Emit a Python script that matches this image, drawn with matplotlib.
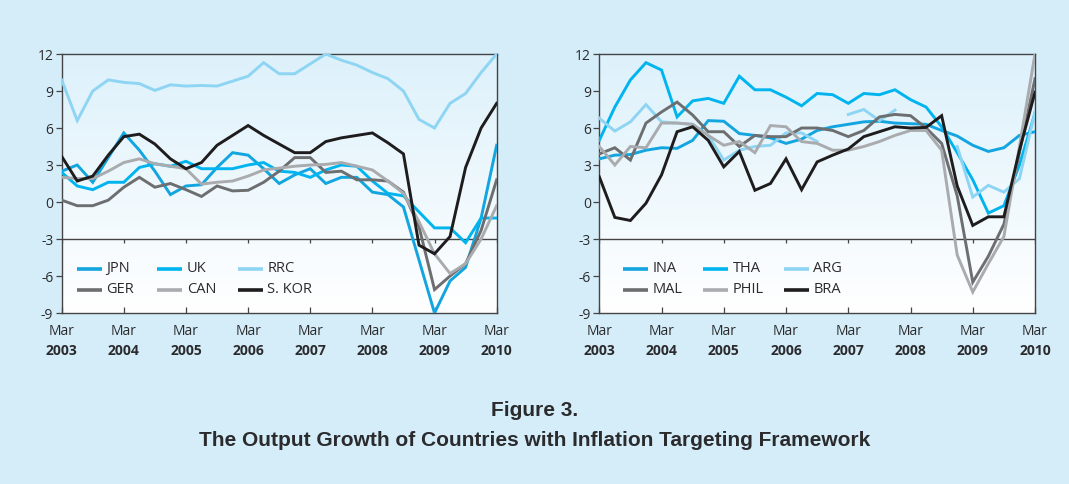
import matplotlib.pyplot as plt
import numpy as np
from matplotlib.colors import LinearSegmentedColormap

nan = np.nan

# quarterly points, Mar 2003 .. Mar 2010
quarters = np.arange(29)
years = ['2003', '2004', '2005', '2006', '2007', '2008', '2009', '2010']
year_ticks = np.arange(0, 29, 4)
y_ticks = [-9, -6, -3, 0, 3, 6, 9, 12]

# left panel
jpn = [2.5, 3.0, 1.6, 3.6, 5.6, 4.2, 2.5, 0.6, 1.3, 1.4, 2.8, 4.0, 3.8, 2.7, 1.5,
       2.2, 2.7, 1.5, 2.0, 2.0, 0.8, 0.6, -0.4, -4.7, -9.0, -6.4, -5.3, -1.3, 4.6]
uk = [2.4, 1.3, 1.0, 1.6, 1.6, 2.8, 3.1, 2.9, 3.3, 2.7, 2.7, 2.7, 3.0, 3.2, 2.5,
      2.4, 2.0, 2.6, 3.0, 2.9, 1.7, 0.7, 0.5, -0.8, -2.1, -2.1, -3.3, -1.3, -1.3]
rrc = [9.9, 6.6, 9.0, 9.9, 9.7, 9.6, 9.05, 9.5, 9.4, 9.45, 9.4, 9.8, 10.2, 11.3, 10.4,
       10.4, 11.2, 12.0, 11.5, 11.1, 10.5, 10.0, 9.0, 6.7, 6.0, 8.0, 8.8, 10.5, 12.0]
ger = [0.15, -0.3, -0.3, 0.15, 1.2, 2.0, 1.2, 1.5, 1.0, 0.45, 1.3, 0.9, 0.95, 1.6, 2.5,
       3.6, 3.6, 2.4, 2.5, 1.8, 1.8, 1.7, 0.8, -2.0, -7.1, -6.0, -5.0, -2.3, 1.8]
can = [2.0, 1.9, 1.9, 2.5, 3.2, 3.5, 3.1, 2.9, 2.7, 1.45, 1.6, 1.7, 2.1, 2.6, 2.75,
       2.9, 3.0, 3.05, 3.2, 2.9, 2.6, 1.7, 0.7, -1.6, -4.2, -5.8, -5.0, -3.0, -0.3]
skor = [3.7, 1.7, 2.1, 3.8, 5.3, 5.5, 4.7, 3.5, 2.7, 3.2, 4.6, 5.4, 6.2, 5.4, 4.7,
        4.0, 4.0, 4.9, 5.2, 5.4, 5.6, 4.8, 3.9, -3.5, -4.2, -2.8, 2.8, 6.0, 8.0]

# right panel
ina = [3.5, 3.8, 3.85, 4.2, 4.4, 4.35, 5.0, 6.6, 6.55, 5.55, 5.4, 5.2, 4.75, 5.1, 5.8,
       6.1, 6.3, 6.5, 6.55, 6.4, 6.35, 6.3, 5.8, 5.35, 4.6, 4.1, 4.4, 5.4, 5.7]
tha = [5.0, 7.7, 9.9, 11.3, 10.7, 6.9, 8.2, 8.4, 8.0, 10.2, 9.1, 9.1, 8.5, 7.8, 8.8,
       8.7, 8.0, 8.8, 8.7, 9.1, 8.3, 7.7, 6.1, 4.0, 1.8, -0.9, -0.3, 3.0, 7.2]
arg = [6.8, 5.75, 6.5, 7.9, 6.5, 6.4, 6.3, 5.4, 3.4, 4.2, 4.5, 4.6, 5.6, 5.6, 4.9,
       nan, 7.1, 7.5, 6.6, 7.45, nan, nan, nan, 4.5, 0.4, 1.35, 0.8, 1.9, 7.3]
mal = [3.9, 4.4, 3.4, 6.4, 7.3, 8.1, 7.05, 5.7, 5.7, 4.5, 5.4, 5.3, 5.3, 6.0, 6.0,
       5.8, 5.3, 5.8, 6.9, 7.1, 7.0, 6.0, 4.75, 0.5, -6.5, -4.4, -1.8, 4.0, 10.0]
phil = [4.5, 3.0, 4.5, 4.4, 6.4, 6.4, 6.3, 5.4, 4.6, 4.9, 4.0, 6.2, 6.1, 4.9, 4.75,
        4.2, 4.2, 4.5, 4.9, 5.4, 5.8, 5.8, 4.2, -4.3, -7.3, -5.0, -2.8, 4.5, 12.0]
bra = [2.05, -1.25, -1.5, -0.1, 2.2, 5.7, 6.1, 5.0, 2.85, 4.1, 0.95, 1.5, 3.5, 1.0, 3.25,
       3.8, 4.3, 5.3, 5.7, 6.1, 6.0, 6.05, 7.0, 1.3, -1.9, -1.2, -1.2, 4.2, 8.9]

BG = '#d4edf9'
AX_COL = '#444446'
TXT = '#2b2b2d'
C_BLUE = '#12a5e0'
C_CYAN = '#00b5ef'
C_LIGHT = '#8ed5f3'
C_DGRAY = '#6d6e70'
C_LGRAY = '#a9abae'
C_BLACK = '#1f1c1d'

plt.rcParams['font.family'] = ['Open Sans', 'DejaVu Sans']

fig = plt.figure(figsize=(10.69, 4.84), dpi=100)
fig.patch.set_facecolor(BG)

bg_cmap = LinearSegmentedColormap.from_list('bg', ['#ffffff', '#ddf1fb'])


def draw_panel(ax, series, labels, colors, legend_x):
    grad = np.linspace(0, 1, 256).reshape(-1, 1)
    ax.imshow(grad, extent=[0, 28, -9, 12], aspect='auto', cmap=bg_cmap,
              origin='lower', zorder=0)

    for s, c in zip(series, colors):
        ax.plot(quarters, s, color=c, lw=2.1, solid_joinstyle='miter', zorder=3)

    ax.set_xlim(0, 28)
    ax.set_ylim(-9, 12)
    ax.set_yticks(y_ticks)
    ax.set_yticklabels([str(v) for v in y_ticks], fontsize=10, color=TXT)
    ax.tick_params(axis='y', direction='out', length=4, width=0.9, color=AX_COL, pad=2)
    ax.set_xticks(year_ticks)
    ax.set_xticklabels([])
    ax.tick_params(axis='x', direction='in', length=4, width=0.9, color=AX_COL)
    for sp in ax.spines.values():
        sp.set_color(AX_COL)
        sp.set_linewidth(1.0)

    # line at -3 with hanging ticks
    ax.axhline(-3, color=AX_COL, lw=1.0, zorder=2)
    ax.vlines(year_ticks, -3.35, -3, color=AX_COL, lw=0.9, zorder=2)

    tr = ax.get_xaxis_transform()
    for xt, yr in zip(year_ticks, years):
        ax.text(xt, -0.072, 'Mar', transform=tr, ha='center', va='center',
                fontsize=10, color=TXT)
        ax.text(xt, -0.148, yr, transform=tr, ha='center', va='center',
                fontsize=10, fontweight='bold', color=TXT)

    # legend: 3 equal-width columns, 2 rows
    col_w, line_w, gap = 0.185, 0.0575, 0.01
    rows = [0.170, 0.089]
    for k, (lab, c) in enumerate(zip(labels, colors)):
        x0 = legend_x + (k % 3) * col_w
        y0 = rows[k // 3]
        ax.plot([x0, x0 + line_w], [y0, y0], transform=ax.transAxes,
                color=c, lw=2.6, solid_capstyle='butt', zorder=4)
        ax.text(x0 + line_w + gap, y0, lab, transform=ax.transAxes,
                ha='left', va='center', fontsize=10.5, color=TXT, zorder=4)


ax1 = fig.add_axes([0.0577, 0.3533, 0.4069, 0.5351])
draw_panel(ax1, [jpn, uk, rrc, ger, can, skor],
           ['JPN', 'UK', 'RRC', 'GER', 'CAN', 'S. KOR'],
           [C_BLUE, C_CYAN, C_LIGHT, C_DGRAY, C_LGRAY, C_BLACK], 0.035)

ax2 = fig.add_axes([0.5606, 0.3533, 0.4076, 0.5351])
draw_panel(ax2, [ina, tha, arg, mal, phil, bra],
           ['INA', 'THA', 'ARG', 'MAL', 'PHIL', 'BRA'],
           [C_BLUE, C_CYAN, C_LIGHT, C_DGRAY, C_LGRAY, C_BLACK], 0.054)

fig.text(0.5, 1 - 411 / 484, 'Figure 3.', ha='center', va='center',
         fontsize=15, fontweight='bold', color=TXT, family='Liberation Sans')
fig.text(0.5, 1 - 441 / 484,
         'The Output Growth of Countries with Inflation Targeting Framework',
         ha='center', va='center', fontsize=15, fontweight='bold', color=TXT,
         family='Liberation Sans')

fig.savefig('out.png', dpi=100, facecolor=BG)
